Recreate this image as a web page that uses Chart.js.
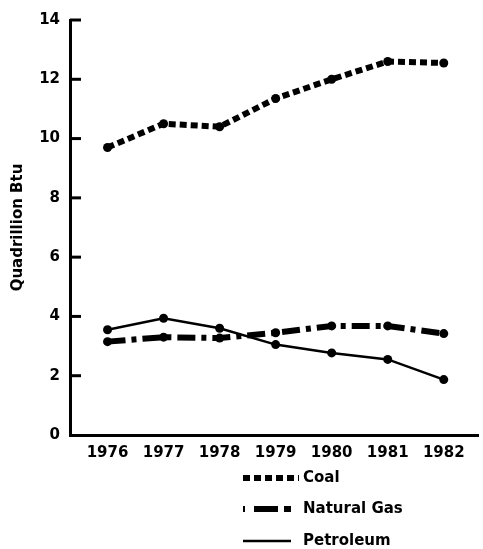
<!DOCTYPE html>
<html>
<head>
<meta charset="utf-8">
<script src="https://cdn.jsdelivr.net/npm/chart.js@4/dist/chart.umd.min.js"></script>
<style>
  html, body { margin: 0; padding: 0; background: #fff; }
  #wrap { position: relative; width: 483px; height: 549px; }
</style>
</head>
<body>
<div id="wrap"><canvas id="c" width="483" height="549"></canvas></div>
<script>
const years = [1976, 1977, 1978, 1979, 1980, 1981, 1982];
const coal = [9.7, 10.5, 10.4, 11.35, 12.0, 12.6, 12.55];
const naturalGas = [3.15, 3.3, 3.27, 3.45, 3.68, 3.68, 3.42];
const petroleum = [3.55, 3.94, 3.6, 3.05, 2.77, 2.55, 1.87];
const yTicks = [0, 2, 4, 6, 8, 10, 12, 14];
const seriesNames = ['Coal', 'Natural Gas', 'Petroleum'];
const yTitle = 'Quadrillion Btu';

const FONT = 'DejaVu Sans';

function pts(arr) { return years.map((y, i) => ({ x: y, y: arr[i] })); }

const innerTicks = {
  id: 'innerTicks',
  afterDraw(chart) {
    const ctx = chart.ctx, ys = chart.scales.y, left = chart.chartArea.left;
    ctx.save();
    ctx.strokeStyle = '#000';
    ctx.lineWidth = 3;
    yTicks.forEach(v => {
      if (v === 0) return;
      const py = ys.getPixelForValue(v);
      ctx.beginPath();
      ctx.moveTo(left, py);
      ctx.lineTo(left + 11, py);
      ctx.stroke();
    });
    ctx.restore();
  }
};

const customLegend = {
  id: 'customLegend',
  afterDraw(chart) {
    const ctx = chart.ctx;
    const rows = [478, 509, 541];
    ctx.save();
    chart.data.datasets.forEach((ds, i) => {
      const y = rows[i];
      ctx.strokeStyle = '#000';
      ctx.lineWidth = ds.legendWidth;
      ctx.setLineDash(ds.legendDash || []);
      ctx.beginPath();
      ctx.moveTo(ds.legendStart, y);
      ctx.lineTo(ds.legendEnd, y);
      ctx.stroke();
      ctx.setLineDash([]);
      ctx.fillStyle = '#000';
      ctx.font = 'bold 15px ' + FONT;
      ctx.textBaseline = 'middle';
      ctx.textAlign = 'left';
      ctx.fillText(ds.label, 303, y);
    });
    ctx.restore();
  }
};

new Chart(document.getElementById('c'), {
  type: 'line',
  data: {
    datasets: [
      {
        label: seriesNames[0], data: pts(coal),
        borderColor: '#000', backgroundColor: '#000',
        borderWidth: 6, borderDash: [7, 4], borderCapStyle: 'butt',
        pointRadius: 4.5, pointBackgroundColor: '#000', pointBorderWidth: 0,
        legendDash: [7, 4], legendWidth: 6, legendStart: 243, legendEnd: 299, tension: 0
      },
      {
        label: seriesNames[1], data: pts(naturalGas),
        borderColor: '#000', backgroundColor: '#000',
        borderWidth: 6, borderDash: [18, 6, 5, 6], borderCapStyle: 'butt',
        pointRadius: 4.5, pointBackgroundColor: '#000', pointBorderWidth: 0,
        legendDash: [2, 9, 24, 6, 7, 20], legendWidth: 6, legendStart: 243, legendEnd: 291, tension: 0
      },
      {
        label: seriesNames[2], data: pts(petroleum),
        borderColor: '#000', backgroundColor: '#000',
        borderWidth: 2.5,
        pointRadius: 4.5, pointBackgroundColor: '#000', pointBorderWidth: 0,
        legendDash: [], legendWidth: 2.5, legendStart: 243, legendEnd: 291, tension: 0
      }
    ]
  },
  options: {
    responsive: false,
    animation: false,
    layout: { padding: { top: 20, right: 0, left: 0, bottom: 0 } },
    plugins: { legend: { display: false }, tooltip: { enabled: false } },
    scales: {
      x: {
        type: 'linear', min: 1975.33, max: 1982.62,
        afterBuildTicks: s => { s.ticks = years.map(v => ({ value: v })); },
        afterFit: s => { s.height = 114; },
        grid: { display: false, drawTicks: false },
        border: { display: true, color: '#000', width: 3 },
        ticks: {
          color: '#000', padding: 9, maxRotation: 0, autoSkip: false,
          font: { family: FONT, size: 15, weight: 'bold' },
          callback: v => String(v)
        }
      },
      y: {
        min: 0, max: 14,
        afterBuildTicks: s => { s.ticks = yTicks.map(v => ({ value: v })); },
        afterFit: s => { s.width = 70; },
        grid: { display: false, drawTicks: false },
        border: { display: true, color: '#000', width: 3 },
        ticks: {
          color: '#000', padding: 10,
          font: { family: FONT, size: 15, weight: 'bold' }
        },
        title: {
          display: true, text: yTitle, color: '#000',
          font: { family: FONT, size: 15, weight: 'bold' },
          padding: { top: 9, bottom: 0 }
        }
      }
    }
  },
  plugins: [innerTicks, customLegend]
});
</script>
</body>
</html>
